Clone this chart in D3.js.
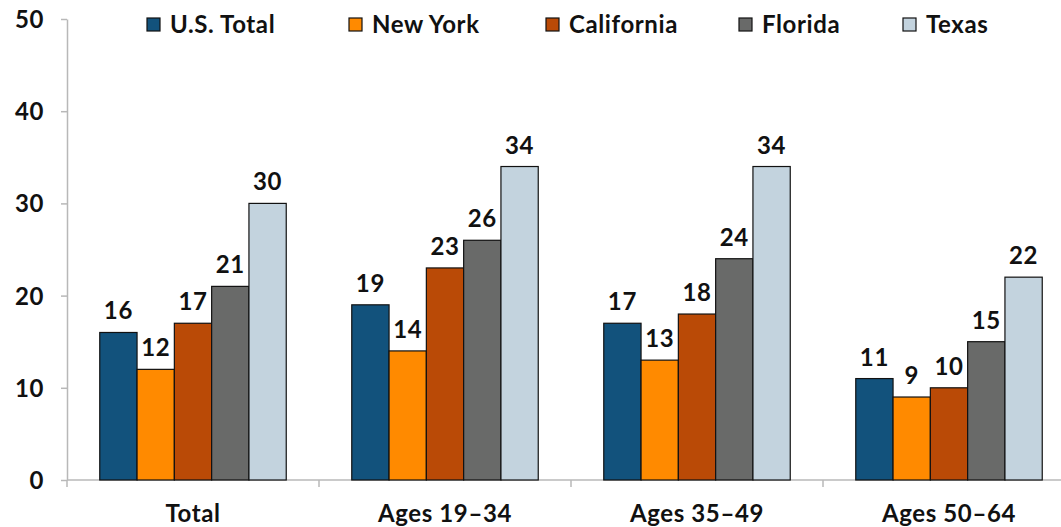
<!DOCTYPE html>
<html>
<head>
<meta charset="utf-8">
<script src="https://cdn.jsdelivr.net/npm/d3@7"></script>
<style>
  body { margin: 0; background: #fff; }
  svg text { font-family: Lato, "Open Sans", sans-serif; font-weight: 700; fill: #111; letter-spacing: 0.6px; }
</style>
</head>
<body>
<div class="canvas"></div>
<script>
const groups = ['Total', 'Ages 19\u201334', 'Ages 35\u201349', 'Ages 50\u201364'];
const states = ['U.S. Total', 'New York', 'California', 'Florida', 'Texas'];
const usTotal = [16, 19, 17, 11];
const newYork = [12, 14, 13, 9];
const california = [17, 23, 18, 10];
const florida = [21, 26, 24, 15];
const texas = [30, 34, 34, 22];
const yTicks = [0, 10, 20, 30, 40, 50];

const colors = ['#12527c', '#ff8a00', '#ba4a06', '#696a69', '#c3d3de'];
const series = [usTotal, newYork, california, florida, texas];

const dim = {'width': 1061, 'height': 527};
const plot = {'left': 67, 'right': 1075, 'top': 19, 'bottom': 480};

const svg = d3.select('.canvas')
                .append('svg')
                .attr('width', dim.width)
                .attr('height', dim.height);

const x0 = d3.scaleBand()
                .domain(groups)
                .range([plot.left, plot.right])
                .paddingInner(0.26)
                .paddingOuter(0.13);

const x1 = d3.scaleBand()
                .domain(states)
                .range([0, x0.bandwidth()]);

const y = d3.scaleLinear()
                .domain([0, 50])
                .range([plot.bottom, plot.top]);

const color = d3.scaleOrdinal().domain(states).range(colors);

// y axis
const yAxis = svg.append('g')
                .attr('transform', `translate(${plot.left},0)`)
                .call(d3.axisLeft(y).tickValues(yTicks).tickSize(6).tickPadding(17).tickSizeOuter(0));
yAxis.select('.domain').attr('stroke', '#b8b8b8').attr('stroke-width', 1.5);
yAxis.selectAll('.tick line').attr('stroke', '#b8b8b8').attr('stroke-width', 1.5);
yAxis.selectAll('text').attr('font-size', 24).attr('dy', '0.35em');

// x axis, ticks between the groups
const xAxis = svg.append('g')
                .attr('transform', `translate(0,${plot.bottom})`);
xAxis.append('line')
        .attr('x1', plot.left).attr('x2', plot.right)
        .attr('stroke', '#b8b8b8').attr('stroke-width', 1.5);
const step = x0.step();
xAxis.selectAll('line.sep')
        .data(groups)
        .join('line')
        .attr('class', 'sep')
        .attr('x1', (d, i) => plot.left + i * step)
        .attr('x2', (d, i) => plot.left + i * step)
        .attr('y1', 0).attr('y2', 7)
        .attr('stroke', '#b8b8b8').attr('stroke-width', 1.5);
xAxis.selectAll('text')
        .data(groups)
        .join('text')
        .attr('x', d => x0(d) + x0.bandwidth() / 2)
        .attr('y', 42)
        .attr('text-anchor', 'middle')
        .attr('font-size', 24)
        .text(d => d);

// bars
const rows = groups.map((g, i) => ({group: g, values: states.map((s, j) => ({state: s, value: series[j][i]}))}));

const gGroups = svg.selectAll('g.grp')
                .data(rows)
                .join('g')
                .attr('class', 'grp')
                .attr('transform', d => `translate(${x0(d.group)},0)`);

gGroups.selectAll('rect')
        .data(d => d.values)
        .join('rect')
        .attr('x', d => x1(d.state))
        .attr('y', d => y(d.value))
        .attr('width', x1.bandwidth())
        .attr('height', d => y(0) - y(d.value))
        .attr('fill', d => color(d.state))
        .attr('stroke', '#111')
        .attr('stroke-width', 1.2);

gGroups.selectAll('text')
        .data(d => d.values)
        .join('text')
        .attr('x', d => x1(d.state) + x1.bandwidth() / 2)
        .attr('y', d => y(d.value) - 13)
        .attr('text-anchor', 'middle')
        .attr('font-size', 24)
        .text(d => d.value);

// legend
const legendX = [147, 349, 546, 739, 903];
const legend = svg.append('g');
const items = legend.selectAll('g')
                .data(states)
                .join('g')
                .attr('transform', (d, i) => `translate(${legendX[i]},18)`);
items.append('rect')
        .attr('width', 13).attr('height', 13)
        .attr('fill', d => color(d))
        .attr('stroke', '#111').attr('stroke-width', 1.2);
items.append('text')
        .attr('x', 23).attr('y', 15)
        .attr('font-size', 24)
        .text(d => d);
</script>
</body>
</html>
